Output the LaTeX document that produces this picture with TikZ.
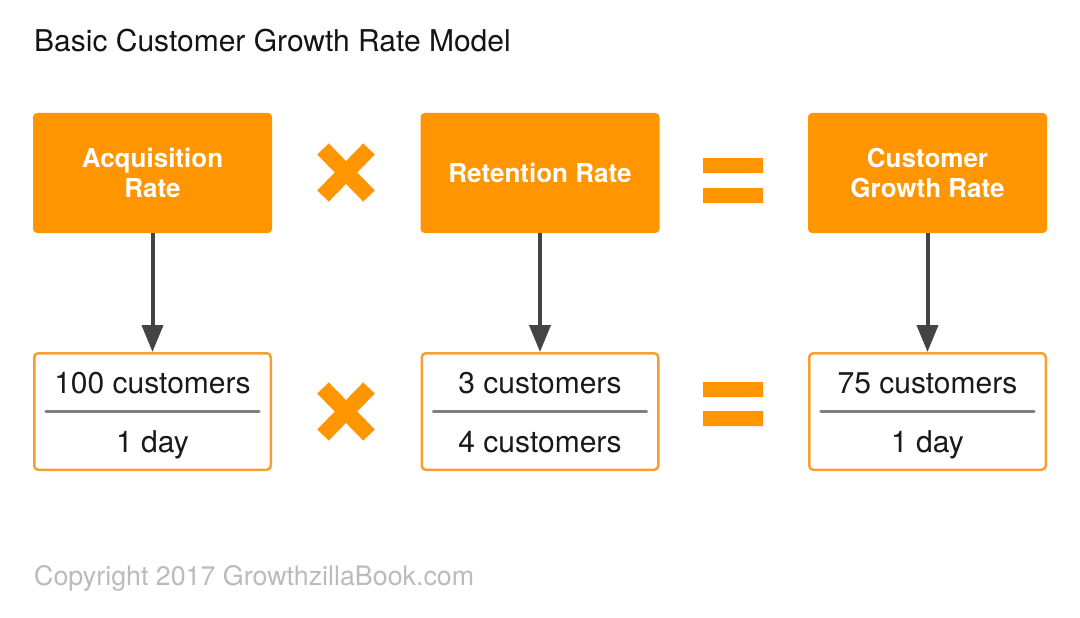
\documentclass[tikz,border=0pt]{standalone}
\usepackage{fontspec}
\setmainfont{TeX Gyre Heros}
\usetikzlibrary{arrows.meta}
\definecolor{orng}{HTML}{FF9500}
\definecolor{orngline}{HTML}{F7A030}
\definecolor{arrgray}{HTML}{444444}
\definecolor{fracgray}{HTML}{808080}
\definecolor{copygray}{HTML}{BBBBBB}
\begin{document}
\begin{tikzpicture}[x=1pt,y=-1pt,
 topbox/.style={fill=orng, rounded corners=4pt, minimum width=239pt, minimum height=120pt, inner sep=0pt, text=white, font=\fontsize{26}{30}\selectfont\bfseries, align=center},
 botbox/.style={draw=orngline, line width=2.5pt, fill=white, rounded corners=4pt, minimum width=236.5pt, minimum height=116.5pt, inner sep=0pt},
 valtext/.style={font=\fontsize{30}{35}\selectfont, text=black!90, anchor=base, inner sep=0pt},
 fracline/.style={draw=fracgray, line width=3.5pt, line cap=round},
 arr/.style={draw=arrgray, line width=4pt, -{Triangle[width=21pt,length=27pt]}},
 opsym/.style={orng, line width=16pt},
]
\useasboundingbox (0,0) rectangle (1080,618);
\fill[white] (0,0) rectangle (1080,618);

\node[anchor=base west, inner sep=0pt, font=\fontsize{30}{36}\selectfont, text=black!92] (title) at (34,52) {Basic Customer Growth Rate Model};
\node[anchor=base west, inner sep=0pt, font=\fontsize{26.8}{32}\selectfont, text=copygray] (copy) at (34,585) {Copyright 2017 GrowthzillaBook.com};

% top boxes
\node[topbox] (a1) at (152.5,173) {Acquisition\\Rate};
\node[topbox] (a2) at (540,173) {Retention Rate};
\node[topbox] (a3) at (927.5,173) {Customer\\Growth Rate};

% bottom boxes
\node[botbox] (b1) at (152.5,411.5) {};
\node[botbox] (b2) at (540,411.5) {};
\node[botbox] (b3) at (927.5,411.5) {};

\node[valtext] (n1) at (152.5,393.5) {100 customers};
\node[valtext] (d1) at (152.5,452.5) {1 day};
\node[valtext] (n2) at (540,393.5) {3 customers};
\node[valtext] (d2) at (540,452.5) {4 customers};
\node[valtext] (n3) at (927.5,393.5) {75 customers};
\node[valtext] (d3) at (927.5,452.5) {1 day};

\foreach \b in {b1,b2,b3}
  \draw[fracline] ([xshift=13pt]\b.west) -- ([xshift=-13pt]\b.east);

% arrows
\draw[arr] (a1) -- (b1);
\draw[arr] (a2) -- (b2);
\draw[arr] (a3) -- (b3);

% multiply signs
\draw[opsym] (323,149) -- (369,196) (323,196) -- (369,149);
\draw[opsym] (323,388) -- (369,435) (323,435) -- (369,388);

% equals signs
\fill[orng] (703,158) rectangle (763,173) (703,188) rectangle (763,203);
\fill[orng] (703,382) rectangle (763,397) (703,411) rectangle (763,426);
\end{tikzpicture}
\end{document}
